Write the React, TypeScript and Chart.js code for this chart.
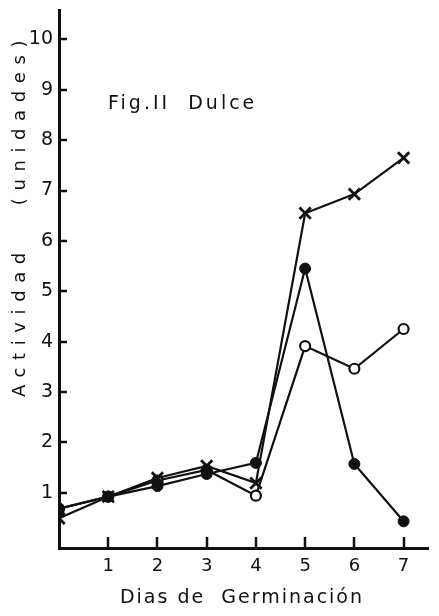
import React, { useEffect, useRef } from "react";
import { Chart, registerables } from "chart.js";

Chart.register(...registerables);

// Germination days and activity readings (units) for the three series
const days = [0, 1, 2, 3, 4, 5, 6, 7];
const crossValues = [0.49, 0.92, 1.29, 1.53, 1.19, 6.55, 6.93, 7.65];
const filledValues = [0.68, 0.92, 1.13, 1.37, 1.59, 5.45, 1.57, 0.43];
const openValues = [0.68, 0.92, 1.24, 1.45, 0.94, 3.91, 3.46, 4.25];

const yTickValues = [1, 2, 3, 4, 5, 6, 7, 8, 9, 10];
const xTickValues = [1, 2, 3, 4, 5, 6, 7];

const figureTitle = "Fig.II  Dulce";
const xTitle = "Dias de  Germinación";
const yTitle = "Actividad   (unidades)";

const FONT = '"DejaVu Sans", sans-serif';

// Tick marks drawn on the inner side of both axes, plus the titles
const decorations = {
  id: "decorations",
  afterDraw(chart: any) {
    const { ctx, chartArea, scales } = chart;
    const xs = scales.x;
    const ys = scales.y;
    ctx.save();
    ctx.strokeStyle = "#111";
    ctx.lineWidth = 2.5;
    ctx.lineCap = "butt";
    for (const v of yTickValues) {
      const py = Math.round(ys.getPixelForValue(v));
      ctx.beginPath();
      ctx.moveTo(chartArea.left, py);
      ctx.lineTo(chartArea.left + 8, py);
      ctx.stroke();
    }
    for (const v of xTickValues) {
      const px = Math.round(xs.getPixelForValue(v));
      ctx.beginPath();
      ctx.moveTo(px, chartArea.bottom);
      ctx.lineTo(px, chartArea.bottom - 11);
      ctx.stroke();
    }

    ctx.fillStyle = "#111";
    ctx.textBaseline = "middle";
    ctx.textAlign = "left";

    // figure caption inside the plot
    ctx.font = `19px ${FONT}`;
    (ctx as any).letterSpacing = "3px";
    ctx.fillText(figureTitle, 108, 104);

    // x axis title
    (ctx as any).letterSpacing = "2px";
    ctx.textAlign = "center";
    ctx.fillText(xTitle, 242, 598);

    // y axis title, rotated
    ctx.translate(20, 215);
    ctx.rotate(-Math.PI / 2);
    ctx.font = `18px ${FONT}`;
    (ctx as any).letterSpacing = "7.6px";
    ctx.fillText(yTitle, 0, 0);
    ctx.restore();
  },
};

export default function App() {
  const canvasRef = useRef<HTMLCanvasElement | null>(null);

  useEffect(() => {
    const canvas = canvasRef.current;
    if (!canvas) return;
    const lineStyle = {
      borderColor: "#111",
      borderWidth: 2.2,
      tension: 0,
      fill: false,
    };
    const chart = new Chart(canvas, {
      type: "line",
      data: {
        labels: days,
        datasets: [
          {
            ...lineStyle,
            order: 2,
            data: days.map((d, i) => ({ x: d, y: openValues[i] })),
            pointStyle: "circle",
            pointRadius: 5,
            pointBorderWidth: 2.2,
            pointBackgroundColor: "#fff",
            pointBorderColor: "#111",
          },
          {
            ...lineStyle,
            order: 0,
            data: days.map((d, i) => ({ x: d, y: filledValues[i] })),
            pointStyle: "circle",
            pointRadius: 5.5,
            pointBorderWidth: 1,
            pointBackgroundColor: "#111",
            pointBorderColor: "#111",
          },
          {
            ...lineStyle,
            order: 1,
            data: days.map((d, i) => ({ x: d, y: crossValues[i] })),
            pointStyle: "crossRot",
            pointRadius: 8,
            pointBorderWidth: 2.8,
            pointBackgroundColor: "#111",
            pointBorderColor: "#111",
          },
        ],
      },
      options: {
        responsive: false,
        animation: false,
        layout: { padding: { top: 1, right: 6, left: 0, bottom: 0 } },
        plugins: {
          legend: { display: false },
          tooltip: { enabled: false },
        },
        scales: {
          x: {
            type: "linear",
            min: 0,
            max: 7.5,
            grid: { display: false, drawTicks: false },
            border: { display: true, color: "#111", width: 3 },
            afterBuildTicks: (scale: any) => {
              scale.ticks = xTickValues.map((v) => ({ value: v }));
            },
            afterFit: (scale: any) => {
              scale.height = 68;
              scale.paddingLeft = 0;
              scale.paddingRight = 0;
            },
            ticks: {
              padding: 8,
              color: "#111",
              font: { family: FONT, size: 18 },
              maxRotation: 0,
              autoSkip: false,
            },
          },
          y: {
            type: "linear",
            min: -0.1,
            max: 10.57,
            grid: { display: false, drawTicks: false },
            border: { display: true, color: "#111", width: 3 },
            afterBuildTicks: (scale: any) => {
              scale.ticks = yTickValues.map((v) => ({ value: v }));
            },
            afterFit: (scale: any) => {
              scale.width = 59;
              scale.paddingTop = 0;
              scale.paddingBottom = 0;
            },
            ticks: {
              padding: 6,
              color: "#111",
              font: { family: FONT, size: 19 },
              autoSkip: false,
            },
          },
        },
      },
      plugins: [decorations],
    });
    return () => chart.destroy();
  }, []);

  return (
    <div
      style={{
        position: "fixed",
        left: 0,
        top: 0,
        width: 439,
        height: 616,
        background: "#fff",
      }}
    >
      <canvas ref={canvasRef} width={439} height={616} />
    </div>
  );
}
